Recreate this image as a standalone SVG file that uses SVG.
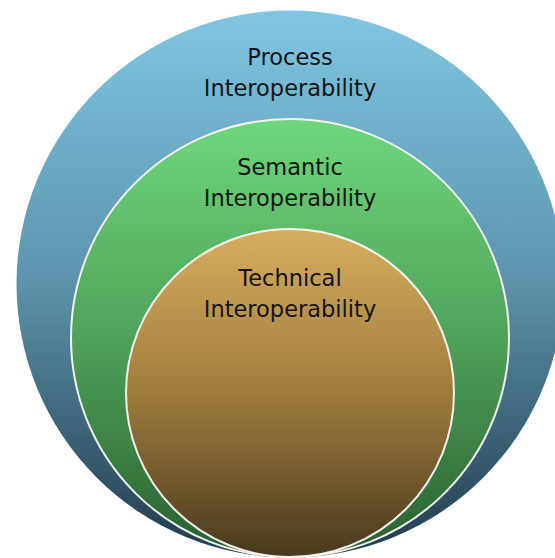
<svg xmlns="http://www.w3.org/2000/svg" width="555" height="558" viewBox="0 0 555 558">
<defs>
<linearGradient id="gBlue" x1="0" y1="0" x2="0" y2="1">
<stop offset="0" stop-color="#80c6e2"/>
<stop offset="0.5" stop-color="#5b93ab"/>
<stop offset="1" stop-color="#223a4b"/>
</linearGradient>
<linearGradient id="gGreen" x1="0" y1="0" x2="0" y2="1">
<stop offset="0" stop-color="#6fd77c"/>
<stop offset="0.5" stop-color="#4fa259"/>
<stop offset="1" stop-color="#285f30"/>
</linearGradient>
<linearGradient id="gBrown" x1="0" y1="0" x2="0" y2="1">
<stop offset="0" stop-color="#d7ae60"/>
<stop offset="0.5" stop-color="#9f7c3c"/>
<stop offset="1" stop-color="#47391e"/>
</linearGradient>
<style>
.lbl{font-family:"DejaVu Sans","Liberation Sans",sans-serif;font-size:22.5px;fill:#141414;text-anchor:middle}
.inner{stroke:#f2f2ee;stroke-width:2}
</style>
</defs>
<g id="process">
<circle cx="290" cy="284" r="273.5" fill="url(#gBlue)"/>
<text class="lbl" x="290" y="65">Process</text>
<text class="lbl" x="290" y="96">Interoperability</text>
</g>
<g id="semantic">
<circle class="inner" cx="290" cy="338" r="219" fill="url(#gGreen)"/>
<text class="lbl" x="290" y="175">Semantic</text>
<text class="lbl" x="290" y="206">Interoperability</text>
</g>
<g id="technical">
<circle class="inner" cx="290" cy="393" r="164" fill="url(#gBrown)"/>
<text class="lbl" x="290" y="286">Technical</text>
<text class="lbl" x="290" y="317">Interoperability</text>
</g>
<g id="connectors"/>
</svg>
